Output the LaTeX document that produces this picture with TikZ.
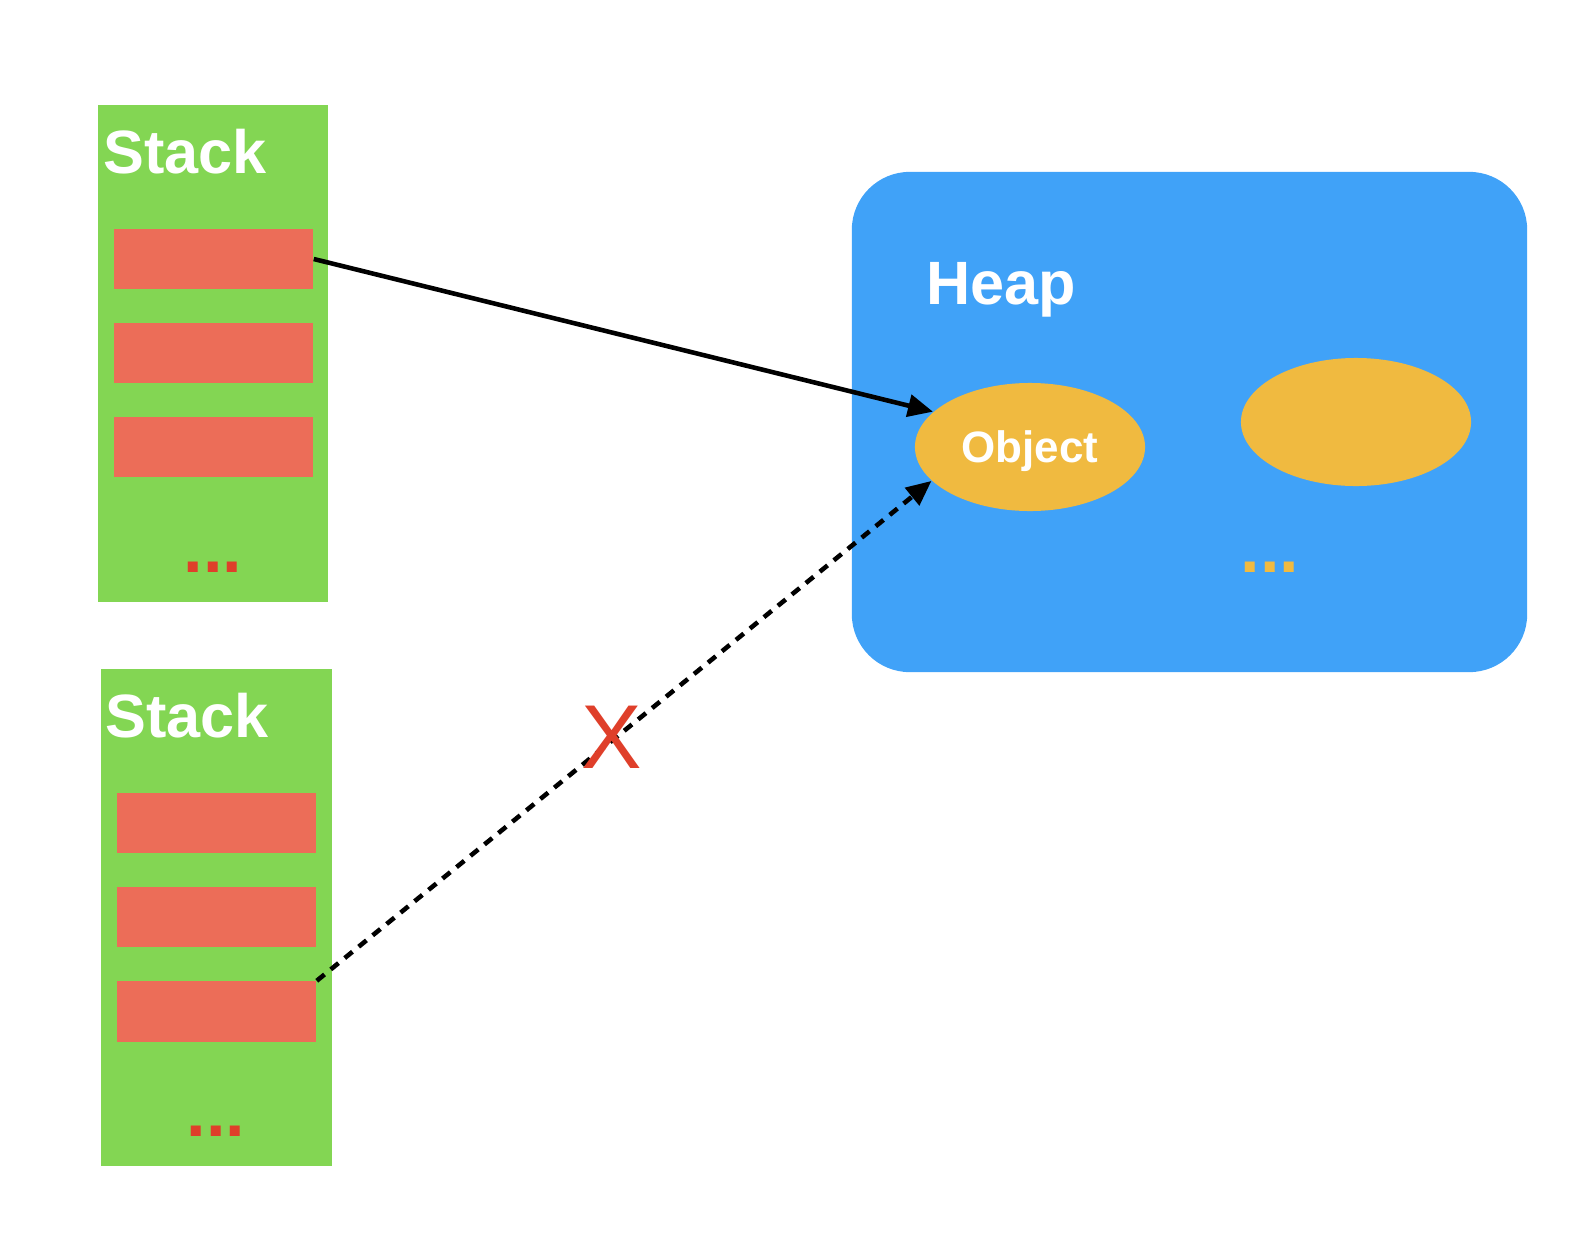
\documentclass[tikz,border=0pt]{standalone}
\usepackage{fontspec}
\setmainfont{Liberation Sans}
\usetikzlibrary{arrows.meta,positioning,shapes.geometric}
\definecolor{stackgreen}{HTML}{83D653}
\definecolor{slotred}{HTML}{EC6D58}
\definecolor{dotred}{HTML}{DF3F2A}
\definecolor{heapblue}{HTML}{40A2F8}
\definecolor{objyellow}{HTML}{F0BA40}

\begin{document}
\begin{tikzpicture}[
    x=0.01cm, y=-0.01cm,
    >={Triangle[length=0.25cm, width=0.22cm]},
    stackbox/.style={rectangle, fill=stackgreen, minimum width=2.3cm, minimum height=4.97cm, inner sep=0pt},
    slot/.style={rectangle, fill=slotred, minimum width=1.99cm, minimum height=0.6cm, inner sep=0pt},
    heapbox/.style={rectangle, fill=heapblue, rounded corners=0.58cm, minimum width=6.75cm, minimum height=5cm, inner sep=0pt},
    obj/.style={ellipse, fill=objyellow, minimum width=2.3cm, minimum height=1.28cm, inner sep=0pt, text=white, text depth=0pt, font=\fontsize{12.5}{14}\selectfont\bfseries},
    title/.style={anchor=base west, inner sep=0pt, text=white, font=\fontsize{17.4}{20}\selectfont\bfseries},
    dots/.style={inner sep=0pt, font=\fontsize{20}{22}\selectfont\bfseries},
    link/.style={line width=1.3pt}
]
\useasboundingbox (0,0) rectangle (1578,1242);
% Pila superior
\node[stackbox] (stk1) at (213,353.5) {};
\node[title] (lab1) at (103,173) {Stack};
\node[slot] (s1a) at (213.5,259) {};
\node[slot] (s1b) at (213.5,353) {};
\node[slot] (s1c) at (213.5,447) {};
\node[dots, text=dotred] (d1) at (213,567) {...};
% Pila inferior
\node[stackbox] (stk2) at (216.5,917.5) {};
\node[title] (lab2) at (105,737) {Stack};
\node[slot] (s2a) at (216.5,823) {};
\node[slot] (s2b) at (216.5,917) {};
\node[slot] (s2c) at (216.5,1011.5) {};
\node[dots, text=dotred] (d2) at (216,1131) {...};
% Heap con sus objetos
\node[heapbox] (heap) at (1189.5,422) {};
\node[title] (labh) at (926,304) {Heap};
\node[obj] (obj) at (1030,447) {Object};
\node[obj] (obj2) at (1356,422) {};
\node[dots, text=objyellow] (d3) at (1270,567) {...};

% Referencias
\draw[->, link] (s1a.east) -- (obj.160);
\draw[->, link, dash pattern=on 0.1cm off 0.08cm] (s2c.north east) -- (obj.199);
\node[text=dotred, inner sep=0pt, font=\fontsize{25.8}{28}\selectfont] (cross) at (612,737) {X};
\end{tikzpicture}
\end{document}
